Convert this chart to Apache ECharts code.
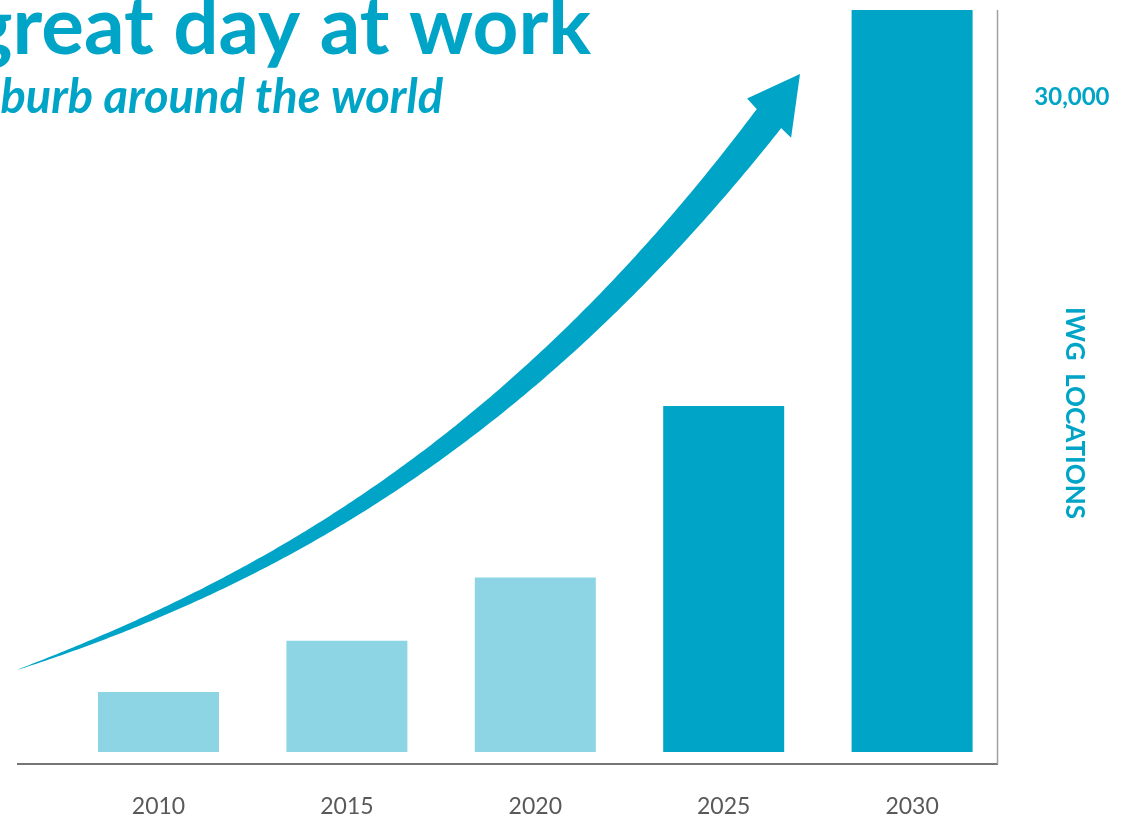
<!DOCTYPE html>
<html>
<head>
<meta charset="utf-8">
<script src="https://cdn.jsdelivr.net/npm/echarts@6/dist/echarts.min.js"></script>
<style>
html,body{margin:0;padding:0;background:#fff;}
#chart{width:1142px;height:819px;}
</style>
</head>
<body>
<div id="chart"></div>
<script>
// ---- data ----
const years = ['2010', '2015', '2020', '2025', '2030'];
const locations = [2750, 5100, 8000, 15850, 34000];
const barShades = ['light', 'light', 'light', 'dark', 'dark'];
const yAxisMax = 34000;
const yAxisInterval = 30000;
const yTickLabels = { 30000: '30,000' };

const titleText = 'great day at work';
const subtitleText = 'burb around the world';
const axisTitle = 'IWG  LOCATIONS';

// ---- styles / decoration geometry ----
const BLUE = '#00A4C7';
const LIGHT = '#8DD5E4';
const shadeColor = { light: LIGHT, dark: BLUE };
const FONT = 'Lato, "Open Sans", sans-serif';

// growth arrow centreline guide points (decorative illustration, pixels)
const arrowGuide = [[17, 669], [133, 627], [240, 574], [460, 433], [570, 338], [653, 260], [770, 116]];
const arrowTip = [800, 74];

function polyFit(pts, deg) {
  const m = deg + 1;
  const A = [], b = [];
  for (let r = 0; r < m; r++) { A.push(new Array(m).fill(0)); b.push(0); }
  const sx = 400;
  pts.forEach(([x, y]) => {
    const u = x / sx;
    for (let r = 0; r < m; r++) {
      for (let c = 0; c < m; c++) A[r][c] += Math.pow(u, r + c);
      b[r] += y * Math.pow(u, r);
    }
  });
  for (let i = 0; i < m; i++) {
    let p = i;
    for (let k = i + 1; k < m; k++) if (Math.abs(A[k][i]) > Math.abs(A[p][i])) p = k;
    [A[i], A[p]] = [A[p], A[i]]; [b[i], b[p]] = [b[p], b[i]];
    for (let k = i + 1; k < m; k++) {
      const f = A[k][i] / A[i][i];
      for (let c = i; c < m; c++) A[k][c] -= f * A[i][c];
      b[k] -= f * b[i];
    }
  }
  const co = new Array(m).fill(0);
  for (let i = m - 1; i >= 0; i--) {
    let s = b[i];
    for (let c = i + 1; c < m; c++) s -= A[i][c] * co[c];
    co[i] = s / A[i][i];
  }
  return x => co.reduce((acc, cf, i) => acc + cf * Math.pow(x / sx, i), 0);
}

function arrowPolygon() {
  const f = polyFit(arrowGuide, 3);
  const x0 = arrowGuide[0][0], x1 = arrowGuide[arrowGuide.length - 1][0];
  const c = [];
  for (let x = x0; x <= x1 + 0.01; x += 4) c.push([x, f(x)]);
  const len = [0];
  for (let i = 1; i < c.length; i++) len.push(len[i - 1] + Math.hypot(c[i][0] - c[i - 1][0], c[i][1] - c[i - 1][1]));
  const total = len[len.length - 1];
  const right = [], left = [];
  for (let i = 0; i < c.length; i++) {
    const a = c[Math.max(i - 1, 0)], bb = c[Math.min(i + 1, c.length - 1)];
    let tx = bb[0] - a[0], ty = bb[1] - a[1];
    const tl = Math.hypot(tx, ty); tx /= tl; ty /= tl;
    const nx = -ty, ny = tx;
    const w = 15.5 * Math.pow(len[i] / total, 0.8);
    right.push([c[i][0] + nx * w, c[i][1] + ny * w]);
    left.push([c[i][0] - nx * w, c[i][1] - ny * w]);
  }
  const base = c[c.length - 1];
  let dx = arrowTip[0] - base[0], dy = arrowTip[1] - base[1];
  const dl = Math.hypot(dx, dy); dx /= dl; dy /= dl;
  const nx = -dy, ny = dx;
  const P = (a, b2) => [base[0] + nx * a + dx * b2, base[1] + ny * a + dy * b2];
  const head = [P(16, -1), P(29, -3), arrowTip.slice(), P(-29.5, 4), P(-16, 1)];
  return right.concat(head, left.reverse());
}

const chart = echarts.init(document.getElementById('chart'), null, { renderer: 'canvas' });

const option = {
  animation: false,
  backgroundColor: '#ffffff',
  grid: { left: 64.3, right: 135.7, top: 10, bottom: 67, containLabel: false },
  xAxis: {
    type: 'category',
    data: years,
    axisLine: { show: false },
    axisTick: { show: false },
    splitLine: { show: false },
    axisLabel: { color: '#595959', fontFamily: FONT, fontSize: 23, margin: 43 }
  },
  yAxis: {
    type: 'value',
    position: 'right',
    min: 0,
    max: yAxisMax,
    interval: yAxisInterval,
    axisLine: { show: false },
    axisTick: { show: false },
    splitLine: { show: false },
    axisLabel: {
      margin: 28,
      color: BLUE,
      fontFamily: FONT,
      fontWeight: 'bold',
      fontSize: 24,
      formatter: v => yTickLabels[v] || ''
    }
  },
  series: [{
    type: 'bar',
    barWidth: 121,
    data: locations.map((v, i) => ({ value: v, itemStyle: { color: shadeColor[barShades[i]] } })),
    clip: true
  }],
  graphic: [
    { type: 'line', z: 5, shape: { x1: 17, y1: 764, x2: 998, y2: 764 }, style: { stroke: '#767676', lineWidth: 2 } },
    { type: 'line', z: 5, shape: { x1: 997.5, y1: 10, x2: 997.5, y2: 764 }, style: { stroke: '#a0a0a0', lineWidth: 1.5 } },
    { type: 'polygon', z: 10, shape: { points: arrowPolygon() }, style: { fill: BLUE } },
    { type: 'text', z: 10, style: { text: titleText, x: 591, y: 28, textAlign: 'right', textVerticalAlign: 'middle', fill: BLUE, font: 'bold 80px ' + FONT } },
    { type: 'text', z: 10, style: { text: subtitleText, x: 443, y: 98, textAlign: 'right', textVerticalAlign: 'middle', fill: BLUE, font: 'italic bold 47px ' + FONT } },
    { type: 'text', z: 10, x: 1074, y: 413, rotation: -Math.PI / 2, style: { text: axisTitle, x: 0, y: 0, textAlign: 'center', textVerticalAlign: 'middle', fill: BLUE, font: 'bold 26px ' + FONT } }
  ]
};
chart.setOption(option);
</script>
</body>
</html>
